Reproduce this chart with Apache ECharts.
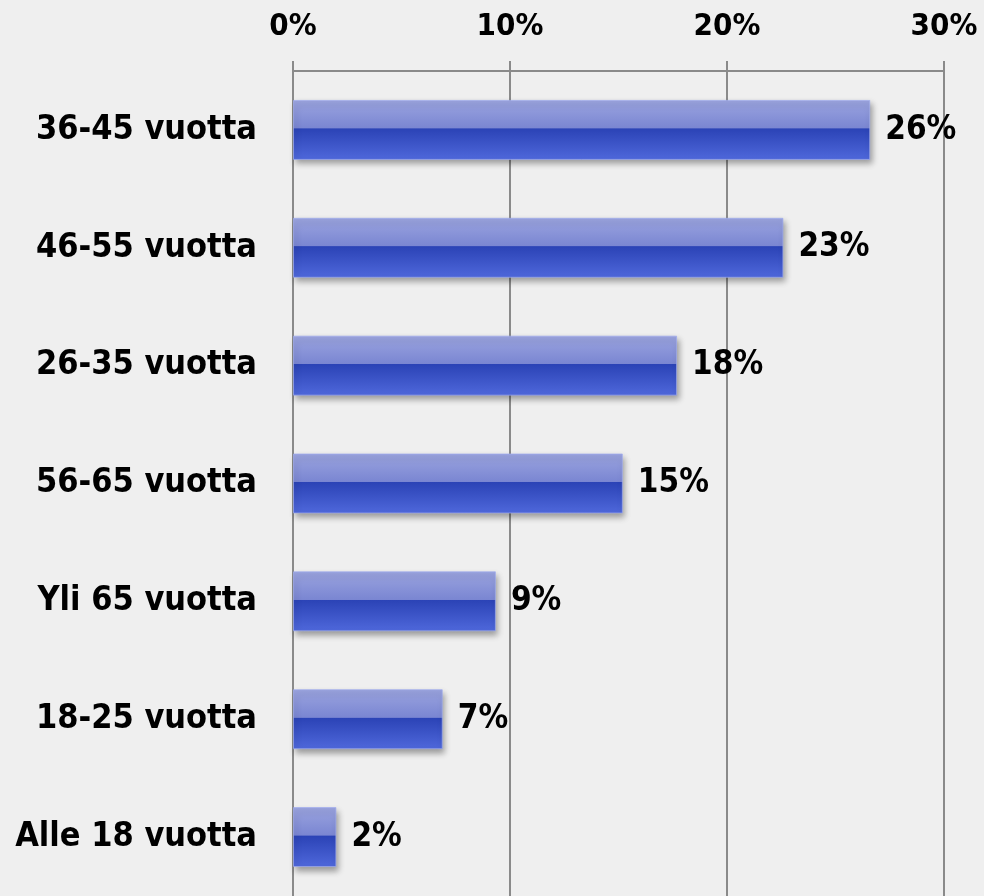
<!DOCTYPE html>
<html>
<head>
<meta charset="utf-8">
<script src="https://cdn.jsdelivr.net/npm/echarts@6/dist/echarts.min.js"></script>
<style>
    html, body { margin: 0; padding: 0; background: #efefef; }
    .bar { width: 984px; height: 896px; }
</style>
</head>
<body>
<div class="bar"></div>
<script>
// ikäryhmät
const categories = ['36-45 vuotta', '46-55 vuotta', '26-35 vuotta', '56-65 vuotta', 'Yli 65 vuotta', '18-25 vuotta', 'Alle 18 vuotta']
// palkkien pituus (%)
const values = [26.6, 22.6, 17.7, 15.2, 9.35, 6.9, 2.0]
// palkkien tekstit
const valueLabels = ['26%', '23%', '18%', '15%', '9%', '7%', '2%']
const ticks = [0, 10, 20, 30]

;(function () {
    const myChart = echarts.init(document.querySelector('.bar'))
    const font = '"DejaVu Sans Condensed", "DejaVu Sans", sans-serif'
    const option = {
        backgroundColor: '#efefef',
        animation: false,
        grid: {
            left: 293,
            right: 40,
            top: 71,
            bottom: 0
        },
        xAxis: {
            type: 'value',
            position: 'top',
            min: ticks[0],
            max: ticks[ticks.length - 1],
            interval: 10,
            axisLine: { show: true, lineStyle: { color: '#8a8a8a', width: 2 } },
            axisTick: { show: true, length: 10, lineStyle: { color: '#8a8a8a', width: 2 } },
            splitLine: { show: true, lineStyle: { color: '#8a8a8a', width: 2 } },
            axisLabel: {
                margin: 29,
                formatter: '{value}%',
                color: '#000',
                fontFamily: font,
                fontWeight: 'bold',
                fontSize: 31
            }
        },
        yAxis: {
            type: 'category',
            inverse: true,
            data: categories,
            axisLine: { show: false },
            axisTick: { show: false },
            axisLabel: {
                margin: 36,
                color: '#000',
                fontFamily: font,
                fontWeight: 'bold',
                fontSize: 34
            }
        },
        series: [
            {
                type: 'bar',
                data: values,
                barWidth: 60,
                itemStyle: {
                    // yläosa vaalea, alaosa tumma -> lasimainen palkki
                    color: new echarts.graphic.LinearGradient(0, 0, 0, 1, [
                        { offset: 0, color: '#9ba4df' },
                        { offset: 0.47, color: '#7a86d2' },
                        { offset: 0.48, color: '#2b43b6' },
                        { offset: 1, color: '#4f68db' }
                    ]),
                    borderColor: 'rgba(160,172,240,0.7)',
                    borderWidth: 1,
                    shadowColor: 'rgba(0,0,0,0.35)',
                    shadowBlur: 6,
                    shadowOffsetX: 2,
                    shadowOffsetY: 4
                },
                label: {
                    show: true,
                    position: 'right',
                    distance: 15,
                    formatter: p => valueLabels[p.dataIndex],
                    color: '#000',
                    fontFamily: font,
                    fontWeight: 'bold',
                    fontSize: 33
                }
            }
        ]
    }
    myChart.setOption(option)
})()
</script>
</body>
</html>
